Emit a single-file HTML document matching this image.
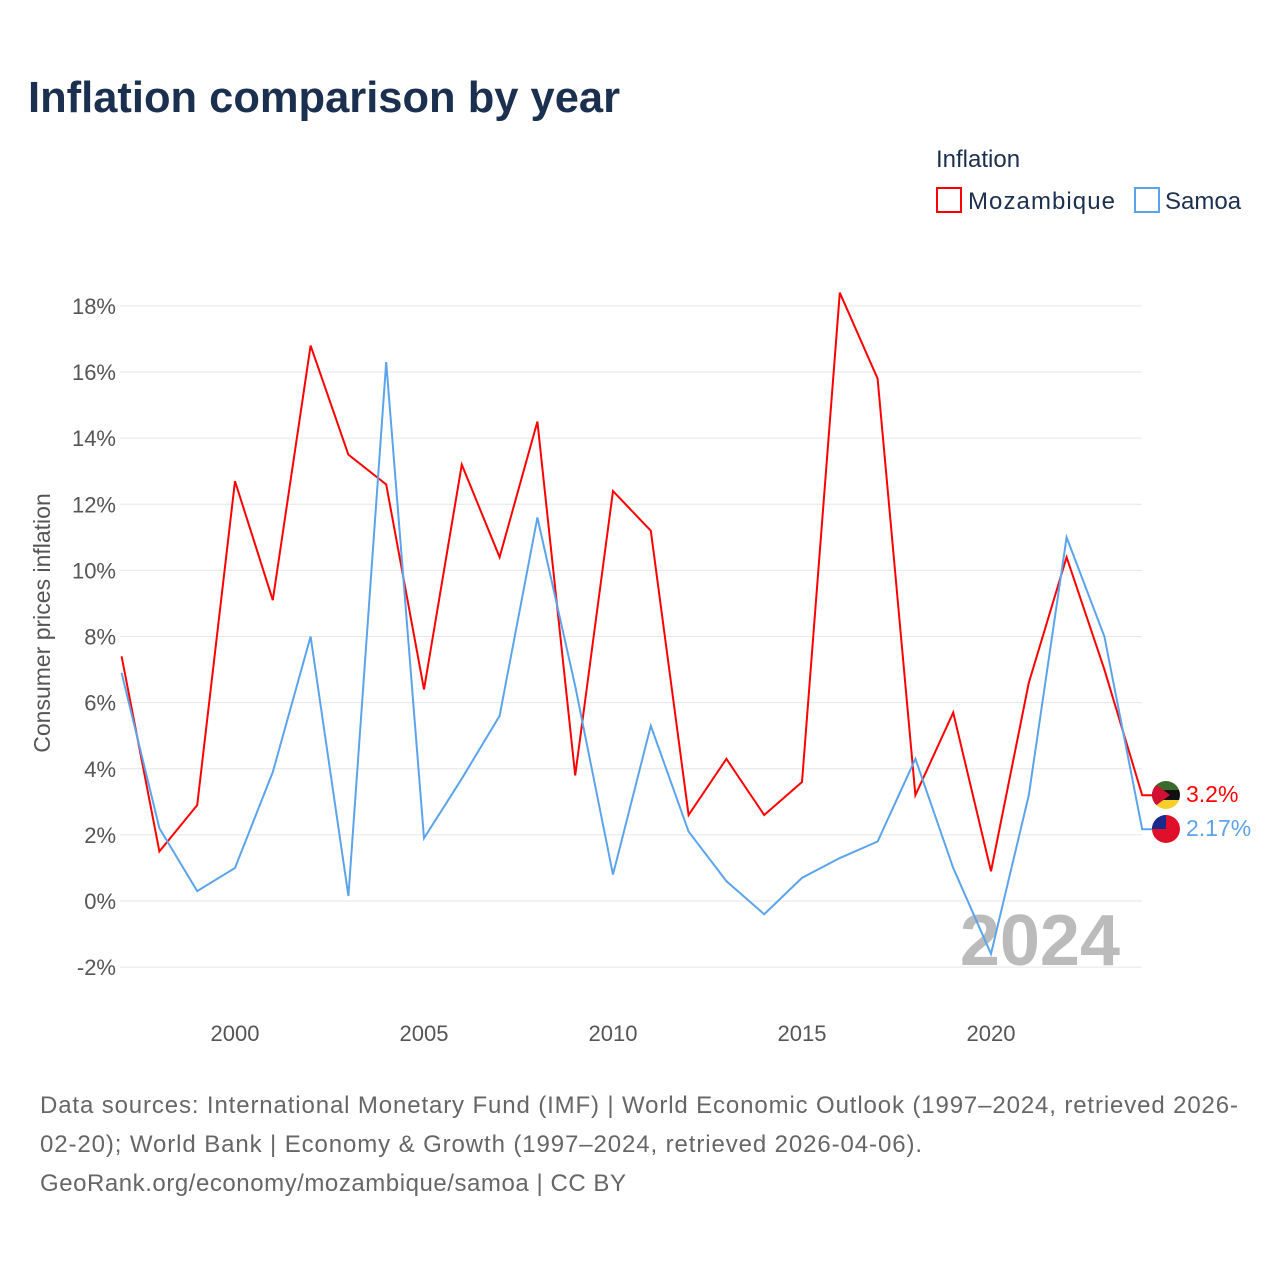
<!DOCTYPE html>
<html><head><meta charset="utf-8"><style>
body{margin:0;background:#fff;font-family:"Liberation Sans",sans-serif;}
svg text{font-family:"Liberation Sans",sans-serif;}
</style></head><body>
<svg id="chart" width="1280" height="1280">
<text x="28" y="112" font-size="44" font-weight="bold" fill="#1b2f4e" textLength="592" lengthAdjust="spacingAndGlyphs">Inflation comparison by year</text>
<text x="936" y="167" font-size="24" fill="#1b2f4e">Inflation</text>
<g><rect x="937" y="188" width="24" height="24" fill="none" stroke="#f00" stroke-width="2"/><text x="968" y="209" font-size="24" fill="#1b2f4e" textLength="147">Mozambique</text></g>
<g><rect x="1135" y="188" width="24" height="24" fill="none" stroke="#5ba4ec" stroke-width="2"/><text x="1165" y="209" font-size="24" fill="#1b2f4e">Samoa</text></g>
<text transform="translate(50,623) rotate(-90)" text-anchor="middle" font-size="23" fill="#555">Consumer prices inflation</text>
<g id="grid"></g><g id="xt"></g>
<text x="1120" y="965" text-anchor="end" font-size="72" font-weight="bold" fill="#bbb">2024</text>
<g id="lines"></g>
<g><clipPath id="c1"><circle cx="1166" cy="795" r="14"/></clipPath><g clip-path="url(#c1)"><rect x="1150" y="780" width="32" height="10" fill="#3a6b2a"/><rect x="1150" y="790" width="32" height="10" fill="#111"/><rect x="1150" y="800" width="32" height="10" fill="#f5d02a"/><polygon points="1150,780 1170,795 1150,810" fill="#d21034"/></g></g>
<g><clipPath id="c2"><circle cx="1166" cy="829" r="14"/></clipPath><g clip-path="url(#c2)"><rect x="1150" y="814" width="32" height="30" fill="#e0102a"/><rect x="1150" y="814" width="16" height="15" fill="#1a2b8c"/></g></g>
<text x="1186" y="802" font-size="23" fill="#f00">3.2%</text>
<text x="1186" y="836" font-size="23" fill="#5ba4ec">2.17%</text>
<text font-size="24" fill="#666"><tspan x="40" y="1113" textLength="1198">Data sources: International Monetary Fund (IMF) | World Economic Outlook (1997–2024, retrieved 2026-</tspan><tspan x="40" y="1152" textLength="882">02-20); World Bank | Economy &amp; Growth (1997–2024, retrieved 2026-04-06).</tspan><tspan x="40" y="1191" textLength="586">GeoRank.org/economy/mozambique/samoa | CC BY</tspan></text>
</svg>
<script>
const years=[1997,1998,1999,2000,2001,2002,2003,2004,2005,2006,2007,2008,2009,2010,2011,2012,2013,2014,2015,2016,2017,2018,2019,2020,2021,2022,2023,2024];
const mozambique=[7.4,1.5,2.9,12.7,9.1,16.8,13.5,12.6,6.4,13.2,10.4,14.5,3.8,12.4,11.2,2.6,4.3,2.6,3.6,18.4,15.8,3.2,5.7,0.9,6.6,10.4,7.0,3.2];
const samoa=[6.9,2.2,0.3,1.0,3.9,8.0,0.15,16.3,1.9,3.7,5.6,11.6,6.5,0.8,5.3,2.1,0.6,-0.4,0.7,1.3,1.8,4.3,1.0,-1.6,3.2,11.0,8.0,2.17];
const yTicks=[-2,0,2,4,6,8,10,12,14,16,18];
const xTicks=[2000,2005,2010,2015,2020];
const X=y=>121.6+(y-1997)*37.8, Y=v=>901-v*33.06;
const NS="http://www.w3.org/2000/svg";
const mk=(t,a,p)=>{const e=document.createElementNS(NS,t);for(const k in a)e.setAttribute(k,a[k]);p.appendChild(e);return e;};
const g=document.getElementById('grid');
yTicks.forEach(v=>{
 const l=mk('line',{x1:120,x2:1142,y1:Y(v),y2:Y(v),stroke:'#e6e6e6'},g);
 
 
 const t=mk('text',{x:116,y:Y(v)+8,'text-anchor':'end','font-size':22,fill:'#555'},g);
 t.textContent=v+'%';
 
 
});
const xt=document.getElementById('xt');
xTicks.forEach(v=>{
 const t=mk('text',{x:X(v),y:1041,'text-anchor':'middle','font-size':22,fill:'#555'},xt);
 t.textContent=v;
 
 
});
const L=document.getElementById('lines');
[[mozambique,'#f00','mozambique-line'],[samoa,'#5ba4ec','samoa-line']].forEach(([d,c,n])=>{
 let pts=d.map((v,i)=>X(years[i])+','+Y(v));
 pts.push('1152,'+Y(d[d.length-1]));
 const p=mk('polyline',{points:pts.join(' '),fill:'none',stroke:c,'stroke-width':2,'stroke-linejoin':'miter'},L);
 
 
});
</script>
</body></html>
